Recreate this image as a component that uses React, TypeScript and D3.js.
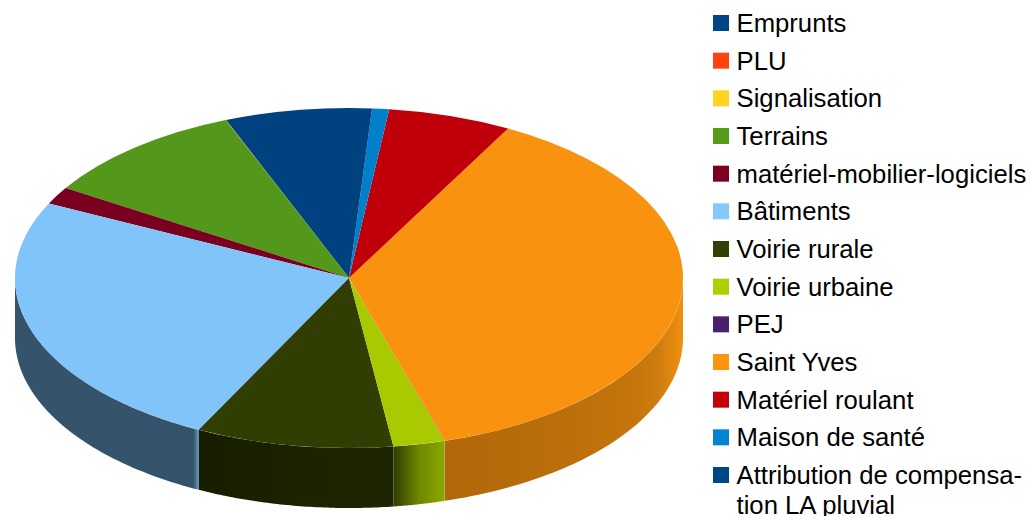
import React from "react";
import * as d3 from "d3";

const categories = ["Emprunts","PLU","Signalisation","Terrains","matériel-mobilier-logiciels","Bâtiments","Voirie rurale","Voirie urbaine","PEJ","Saint Yves","Matériel roulant","Maison de santé","Attribution de compensation LA pluvial"];
const legendLines = [["Emprunts"],["PLU"],["Signalisation"],["Terrains"],["matériel-mobilier-logiciels"],["Bâtiments"],["Voirie rurale"],["Voirie urbaine"],["PEJ"],["Saint Yves"],["Matériel roulant"],["Maison de santé"],["Attribution de compensa-","tion LA pluvial"]];
const values = [6.0,0.01,0.01,10.1,1.65,24.8,9.55,2.5,0.01,37.46,5.98,0.82,1.1];
const legendColors = ["#004586","#ff420e","#ffd320","#579d1c","#7e0021","#83caff","#314004","#aecf00","#4b1f6f","#ff950e","#c5000b","#0084d1","#004586"];
const topColors = ["#004280","#ff420e","#ffd320","#54981b","#7a0020","#80c4fa","#303e04","#a9ca00","#4b1f6f","#f9920e","#bf000a","#0080cb","#004280"];
const wallStops: Record<number,[number,string][]> = {
  5: [[0,"#35536b"],[0.5,"#35536b"],[0.97,"#34526a"],[1,"#6a9cc0"]],
  6: [[0,"#171e00"],[0.9,"#1d2600"],[1,"#1d2600"]],
  7: [[0,"#2f3c00"],[0.5,"#6f8800"],[1,"#8ca800"]],
  9: [[0,"#b1680a"],[0.5,"#bb6f0b"],[0.8,"#c5750c"],[0.9,"#d07d0e"],[1,"#f0900f"]],
};

const W = 1030, H = 516, cx = 349, cy = 278, rx = 334, ry = 170, depth = 60;
const deg90 = Math.PI / 2;

export default function App() {
  const pie = d3.pie<number>().sort(null).startAngle(0).endAngle(-2 * Math.PI);
  const arcs = pie(values);
  const arc = d3.arc<any>().innerRadius(0).outerRadius(rx);
  const lineGen = d3.line<[number, number]>();
  const px = (a: number) => cx + rx * Math.sin(a);
  const py = (a: number) => cy - ry * Math.cos(a);

  const walls = arcs.map((s, i) => {
    const hi = Math.min(s.startAngle, s.endAngle);
    const lo = Math.max(s.startAngle, s.endAngle);
    const a0 = Math.max(hi, -3 * deg90);
    const a1 = Math.min(lo, -deg90);
    if (a1 - a0 < 0.02 || !wallStops[i]) return null;
    const pts = d3.range(0, 61).map((k) => a0 + ((a1 - a0) * k) / 60);
    const upper = pts.map((a) => [px(a), py(a)] as [number, number]);
    const lower = pts.slice().reverse().map((a) => [px(a), py(a) + depth] as [number, number]);
    const xs = upper.map((p) => p[0]);
    return { i, d: lineGen(upper.concat(lower)) + "Z", x1: d3.min(xs)!, x2: d3.max(xs)! };
  }).filter(Boolean) as { i: number; d: string; x1: number; x2: number }[];

  const rowY = d3.scaleLinear().domain([0, 12]).range([23, 475]);

  return (
    <svg width={W} height={H} viewBox={`0 0 ${W} ${H}`} style={{ position: "absolute", left: 0, top: 0, background: "#fff", fontFamily: "'Liberation Sans', Arial, sans-serif" }}>
      <defs>
        {walls.map((w) => (
          <linearGradient key={w.i} id={`wall${w.i}`} gradientUnits="userSpaceOnUse" x1={w.x1} x2={w.x2} y1={0} y2={0}>
            {wallStops[w.i].map(([o, c], k) => <stop key={k} offset={o} stopColor={c} />)}
          </linearGradient>
        ))}
      </defs>
      {walls.map((w) => <path key={w.i} d={w.d} fill={`url(#wall${w.i})`} />)}
      <g transform={`translate(${cx},${cy}) scale(1,${ry / rx})`}>
        {arcs.map((s, i) => (
          <path key={i} d={arc({ startAngle: s.endAngle, endAngle: s.startAngle }) as string} fill={topColors[i]} />
        ))}
      </g>
      {categories.map((c, i) => (
        <g key={c}>
          <rect x={713} y={rowY(i) - 8} width={16} height={16} fill={legendColors[i]} />
          {legendLines[i].map((t, k) => (
            <text key={k} x={736.5} y={rowY(i) + k * 30 + 9} fontSize={25.7} fill="#000">{t}</text>
          ))}
        </g>
      ))}
    </svg>
  );
}
